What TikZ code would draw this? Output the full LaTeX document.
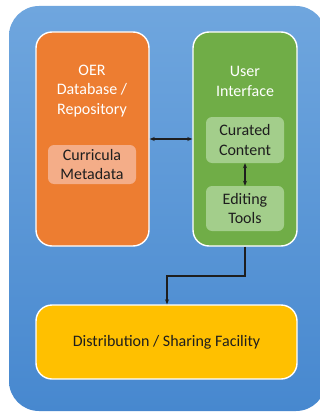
\documentclass[tikz,border=0pt]{standalone}
\usepackage{fontspec}
\setmainfont{Carlito}
\usetikzlibrary{arrows.meta}
\definecolor{bluetop}{HTML}{6FA6DE}
\definecolor{bluebot}{HTML}{4788CF}
\definecolor{oerorange}{HTML}{ED7D31}
\definecolor{uigreen}{HTML}{70AD47}
\definecolor{distyellow}{HTML}{FFC000}
\definecolor{salmon}{HTML}{F4AD88}
\definecolor{lightgreen}{HTML}{A3CE8B}
\definecolor{txtdark}{HTML}{1E1E1E}
\begin{document}
\begin{tikzpicture}[x=1pt,y=-1pt,
  bigbox/.style={draw=white,line width=1.4pt,rounded corners=16pt,inner sep=0pt},
  innerbox/.style={rounded corners=6pt,inner sep=0pt,text=txtdark,align=center,font=\fontsize{16}{19.5}\selectfont},
  title/.style={text=white,align=center,font=\fontsize{16}{19.5}\selectfont},
  conn/.style={line width=1.1pt,draw=txtdark,arrows={-Stealth[length=5pt,width=4pt]}},
  biconn/.style={line width=1.1pt,draw=txtdark,arrows={Stealth[length=5pt,width=4pt]-Stealth[length=5pt,width=4pt]}}]
\useasboundingbox (0,0) rectangle (320,412);
\shade[top color=bluetop,bottom color=bluebot,rounded corners=30pt] (9,6) rectangle (326,411);
\node[bigbox,fill=oerorange,minimum width=113pt,minimum height=214pt] (oer) at (92.5,139) {};
\node[bigbox,fill=uigreen,minimum width=104pt,minimum height=214pt] (ui) at (245,139) {};
\node[bigbox,fill=distyellow,minimum width=261pt,minimum height=74pt,text=txtdark,font=\fontsize{16}{19.5}\selectfont] (dist) at (166.5,342) {Distribution / Sharing Facility};
\node[title] (oertitle) at (92,91) {OER\\Database /\\Repository};
\node[title] (uititle) at (245,81.5) {User\\Interface};
\node[innerbox,fill=salmon,minimum width=88pt,minimum height=39pt] (meta) at (92,164.5) {Curricula\\Metadata};
\node[innerbox,fill=lightgreen,minimum width=78pt,minimum height=46pt] (cur) at (245,140) {Curated\\Content};
\node[innerbox,fill=lightgreen,minimum width=78pt,minimum height=45pt] (edit) at (245,208.5) {Editing\\Tools};
\draw[biconn] (oer.east |- 0,139) -- (ui.west |- 0,139);
\draw[biconn] (cur.south) -- (edit.north);
\coordinate (bend) at (167,276);
\draw[conn] (ui.south) |- (bend) -- (bend |- dist.north);
\end{tikzpicture}
\end{document}
